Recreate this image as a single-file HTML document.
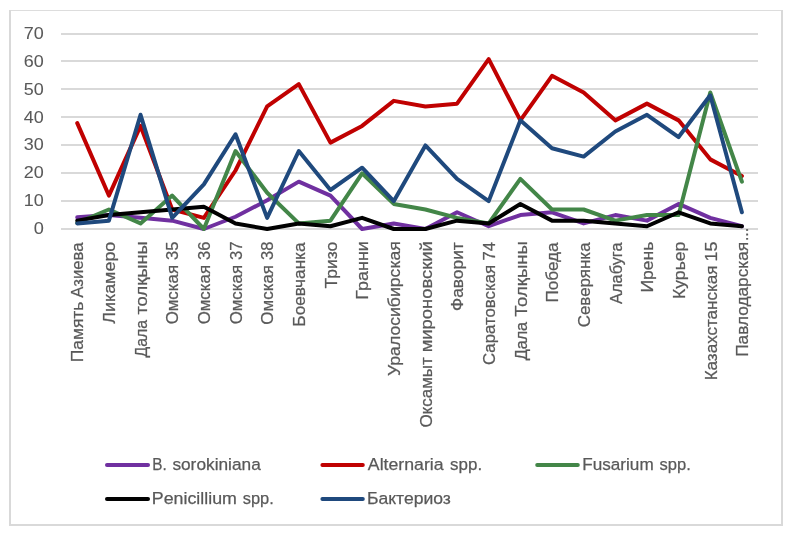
<!DOCTYPE html><html><head><meta charset="utf-8"><title>chart</title><style>html,body{margin:0;padding:0;background:#fff}svg{display:block;will-change:transform;opacity:0.999}text{font-family:"Liberation Sans",sans-serif;fill:#595959;stroke:#595959;stroke-width:0.25px;stroke-linejoin:round}text.y{stroke-width:0.05px}</style></head><body>
<svg width="792" height="537" viewBox="0 0 792 537">
<rect x="0" y="0" width="792" height="537" fill="#fff"/>
<g shape-rendering="crispEdges" fill="#D9D9D9"><rect x="9" y="10" width="774" height="1" fill="#DDDDDD"/><rect x="9" y="10" width="2" height="516"/><rect x="781" y="10" width="2" height="516"/><rect x="9" y="524" width="774" height="2"/>
<rect x="61" y="33" width="697" height="2"/>
<rect x="61" y="60" width="697" height="2"/>
<rect x="61" y="88" width="697" height="2"/>
<rect x="61" y="116" width="697" height="2"/>
<rect x="61" y="144" width="697" height="2"/>
<rect x="61" y="172" width="697" height="2"/>
<rect x="61" y="200" width="697" height="2"/>
<rect x="61" y="228" width="697" height="2"/>
</g>
<text class="y" id="y0" x="43.80" y="234.10" font-size="17.00" text-anchor="end" textLength="10.10" lengthAdjust="spacingAndGlyphs">0</text>
<text class="y" id="y1" x="43.80" y="206.10" font-size="17.00" text-anchor="end" textLength="20.00" lengthAdjust="spacingAndGlyphs">10</text>
<text class="y" id="y2" x="43.80" y="178.10" font-size="17.00" text-anchor="end" textLength="20.00" lengthAdjust="spacingAndGlyphs">20</text>
<text class="y" id="y3" x="43.80" y="150.00" font-size="17.00" text-anchor="end" textLength="20.00" lengthAdjust="spacingAndGlyphs">30</text>
<text class="y" id="y4" x="43.80" y="122.90" font-size="17.00" text-anchor="end" textLength="20.00" lengthAdjust="spacingAndGlyphs">40</text>
<text class="y" id="y5" x="43.80" y="94.80" font-size="17.00" text-anchor="end" textLength="20.00" lengthAdjust="spacingAndGlyphs">50</text>
<text class="y" id="y6" x="43.80" y="67.00" font-size="17.00" text-anchor="end" textLength="20.00" lengthAdjust="spacingAndGlyphs">60</text>
<text class="y" id="y7" x="43.80" y="38.80" font-size="17.00" text-anchor="end" textLength="20.00" lengthAdjust="spacingAndGlyphs">70</text>
<polyline points="77.25,217.30 108.90,215.07 140.55,217.86 172.20,220.64 203.85,229.00 235.50,216.74 267.15,200.31 298.80,181.64 330.45,195.57 362.10,229.00 393.75,223.43 425.40,229.00 457.05,212.29 488.70,226.21 520.35,215.07 552.00,212.29 583.65,223.43 615.30,215.07 646.95,220.64 678.60,203.93 710.25,217.86 741.90,226.21" fill="none" stroke="#7030A0" stroke-width="4.00" stroke-linecap="round" stroke-linejoin="round"/>
<polyline points="77.25,123.14 108.90,195.57 140.55,125.93 172.20,209.50 203.85,217.86 235.50,170.50 267.15,106.43 298.80,84.14 330.45,142.64 362.10,125.93 393.75,100.86 425.40,106.43 457.05,103.64 488.70,59.07 520.35,120.36 552.00,75.79 583.65,92.50 615.30,120.36 646.95,103.64 678.60,120.36 710.25,159.36 741.90,176.07" fill="none" stroke="#C00000" stroke-width="4.00" stroke-linecap="round" stroke-linejoin="round"/>
<polyline points="77.25,222.87 108.90,209.50 140.55,223.43 172.20,195.57 203.85,229.00 235.50,151.00 267.15,192.79 298.80,223.43 330.45,220.64 362.10,173.29 393.75,203.93 425.40,209.50 457.05,217.86 488.70,223.43 520.35,178.86 552.00,209.50 583.65,209.50 615.30,220.64 646.95,215.07 678.60,215.07 710.25,92.50 741.90,181.64" fill="none" stroke="#438648" stroke-width="4.00" stroke-linecap="round" stroke-linejoin="round"/>
<polyline points="77.25,220.64 108.90,215.07 140.55,212.29 172.20,209.50 203.85,206.71 235.50,223.43 267.15,229.00 298.80,223.43 330.45,226.21 362.10,217.86 393.75,229.00 425.40,229.00 457.05,220.64 488.70,223.43 520.35,203.93 552.00,220.64 583.65,220.64 615.30,223.43 646.95,226.21 678.60,212.29 710.25,223.43 741.90,226.21" fill="none" stroke="#000000" stroke-width="4.00" stroke-linecap="round" stroke-linejoin="round"/>
<polyline points="77.25,223.43 108.90,220.64 140.55,114.79 172.20,217.86 203.85,184.43 235.50,134.29 267.15,217.86 298.80,151.00 330.45,190.00 362.10,167.71 393.75,201.14 425.40,145.43 457.05,178.86 488.70,201.14 520.35,120.36 552.00,148.21 583.65,156.57 615.30,131.50 646.95,114.79 678.60,137.07 710.25,95.29 741.90,212.29" fill="none" stroke="#1F497D" stroke-width="4.00" stroke-linecap="round" stroke-linejoin="round"/>
<text id="c0_0" transform="translate(83.14,301.54) rotate(-90)" font-size="17.40" text-anchor="end" textLength="60.81" lengthAdjust="spacingAndGlyphs">Память</text>
<text id="c0_1" transform="translate(83.14,242.43) rotate(-90)" font-size="17.40" text-anchor="end" textLength="55.39" lengthAdjust="spacingAndGlyphs">Азиева</text>
<text id="c1_0" transform="translate(114.82,241.67) rotate(-90)" font-size="17.40" text-anchor="end" textLength="82.20" lengthAdjust="spacingAndGlyphs">Ликамеро</text>
<text id="c2_0" transform="translate(146.50,319.85) rotate(-90)" font-size="17.40" text-anchor="end" textLength="37.75" lengthAdjust="spacingAndGlyphs">Дала</text>
<text id="c2_1" transform="translate(146.50,241.17) rotate(-90)" font-size="17.40" text-anchor="end" textLength="73.45" lengthAdjust="spacingAndGlyphs">толқыны</text>
<text id="c3_0" transform="translate(178.19,264.98) rotate(-90)" font-size="17.40" text-anchor="end" textLength="59.34" lengthAdjust="spacingAndGlyphs">Омская</text>
<text id="c3_1" transform="translate(178.19,241.68) rotate(-90)" font-size="17.40" text-anchor="end" textLength="18.38" lengthAdjust="spacingAndGlyphs">35</text>
<text id="c4_0" transform="translate(209.87,264.98) rotate(-90)" font-size="17.40" text-anchor="end" textLength="59.34" lengthAdjust="spacingAndGlyphs">Омская</text>
<text id="c4_1" transform="translate(209.87,241.67) rotate(-90)" font-size="17.40" text-anchor="end" textLength="18.38" lengthAdjust="spacingAndGlyphs">36</text>
<text id="c5_0" transform="translate(241.55,264.98) rotate(-90)" font-size="17.40" text-anchor="end" textLength="59.34" lengthAdjust="spacingAndGlyphs">Омская</text>
<text id="c5_1" transform="translate(241.55,241.56) rotate(-90)" font-size="17.40" text-anchor="end" textLength="18.51" lengthAdjust="spacingAndGlyphs">37</text>
<text id="c6_0" transform="translate(273.23,264.98) rotate(-90)" font-size="17.40" text-anchor="end" textLength="59.68" lengthAdjust="spacingAndGlyphs">Омская</text>
<text id="c6_1" transform="translate(273.23,241.67) rotate(-90)" font-size="17.40" text-anchor="end" textLength="18.38" lengthAdjust="spacingAndGlyphs">38</text>
<text id="c7_0" transform="translate(304.91,242.43) rotate(-90)" font-size="17.40" text-anchor="end" textLength="84.21" lengthAdjust="spacingAndGlyphs">Боевчанка</text>
<text id="c8_0" transform="translate(336.60,241.67) rotate(-90)" font-size="17.40" text-anchor="end" textLength="46.79" lengthAdjust="spacingAndGlyphs">Тризо</text>
<text id="c9_0" transform="translate(368.28,241.18) rotate(-90)" font-size="17.40" text-anchor="end" textLength="58.46" lengthAdjust="spacingAndGlyphs">Гранни</text>
<text id="c10_0" transform="translate(399.96,241.18) rotate(-90)" font-size="17.40" text-anchor="end" textLength="134.92" lengthAdjust="spacingAndGlyphs">Уралосибирская</text>
<text id="c11_0" transform="translate(431.64,357.17) rotate(-90)" font-size="17.40" text-anchor="end" textLength="70.44" lengthAdjust="spacingAndGlyphs">Оксамыт</text>
<text id="c11_1" transform="translate(431.64,241.17) rotate(-90)" font-size="17.40" text-anchor="end" textLength="111.16" lengthAdjust="spacingAndGlyphs">мироновский</text>
<text id="c12_0" transform="translate(463.32,242.18) rotate(-90)" font-size="17.40" text-anchor="end" textLength="68.88" lengthAdjust="spacingAndGlyphs">Фаворит</text>
<text id="c13_0" transform="translate(495.00,264.91) rotate(-90)" font-size="17.40" text-anchor="end" textLength="100.06" lengthAdjust="spacingAndGlyphs">Саратовская</text>
<text id="c13_1" transform="translate(495.00,241.95) rotate(-90)" font-size="17.40" text-anchor="end" textLength="18.68" lengthAdjust="spacingAndGlyphs">74</text>
<text id="c14_0" transform="translate(526.69,321.85) rotate(-90)" font-size="17.40" text-anchor="end" textLength="38.53" lengthAdjust="spacingAndGlyphs">Дала</text>
<text id="c14_1" transform="translate(526.69,241.17) rotate(-90)" font-size="17.40" text-anchor="end" textLength="75.68" lengthAdjust="spacingAndGlyphs">Толқыны</text>
<text id="c15_0" transform="translate(558.37,242.42) rotate(-90)" font-size="17.40" text-anchor="end" textLength="60.04" lengthAdjust="spacingAndGlyphs">Победа</text>
<text id="c16_0" transform="translate(590.05,242.42) rotate(-90)" font-size="17.40" text-anchor="end" textLength="84.94" lengthAdjust="spacingAndGlyphs">Северянка</text>
<text id="c17_0" transform="translate(621.73,242.43) rotate(-90)" font-size="17.40" text-anchor="end" textLength="61.53" lengthAdjust="spacingAndGlyphs">Алабуга</text>
<text id="c18_0" transform="translate(653.41,241.67) rotate(-90)" font-size="17.40" text-anchor="end" textLength="50.81" lengthAdjust="spacingAndGlyphs">Ирень</text>
<text id="c19_0" transform="translate(685.10,241.67) rotate(-90)" font-size="17.40" text-anchor="end" textLength="57.31" lengthAdjust="spacingAndGlyphs">Курьер</text>
<text id="c20_0" transform="translate(716.78,265.50) rotate(-90)" font-size="17.40" text-anchor="end" textLength="114.83" lengthAdjust="spacingAndGlyphs">Казахстанская</text>
<text id="c20_1" transform="translate(716.78,241.67) rotate(-90)" font-size="17.40" text-anchor="end" textLength="19.92" lengthAdjust="spacingAndGlyphs">15</text>
<text id="c21_0" transform="translate(748.46,241.78) rotate(-90)" font-size="17.40" text-anchor="end" textLength="115.07" lengthAdjust="spacingAndGlyphs">Павлодарская</text>
<text id="dots" transform="translate(748.46,241.00) rotate(-90)" font-size="17.40" text-anchor="start" textLength="13.10" lengthAdjust="spacingAndGlyphs">...</text>
<line x1="107.00" y1="465.00" x2="148.00" y2="465.00" stroke="#7030A0" stroke-width="4.00" stroke-linecap="round"/>
<line x1="322.40" y1="465.00" x2="362.80" y2="465.00" stroke="#C00000" stroke-width="4.00" stroke-linecap="round"/>
<line x1="537.20" y1="465.00" x2="577.80" y2="465.00" stroke="#438648" stroke-width="4.00" stroke-linecap="round"/>
<line x1="107.00" y1="499.00" x2="148.00" y2="499.00" stroke="#000000" stroke-width="4.00" stroke-linecap="round"/>
<line x1="322.40" y1="499.00" x2="362.80" y2="499.00" stroke="#1F497D" stroke-width="4.00" stroke-linecap="round"/>
<text id="w0a" x="152.24" y="470.30" font-size="17.40" textLength="14.48" lengthAdjust="spacingAndGlyphs">B.</text>
<text id="w0b" x="172.39" y="470.30" font-size="17.40" textLength="88.38" lengthAdjust="spacingAndGlyphs">sorokiniana</text>
<text id="w1a" x="367.89" y="470.30" font-size="17.40" textLength="75.72" lengthAdjust="spacingAndGlyphs">Alternaria</text>
<text id="w1b" x="450.10" y="470.30" font-size="17.40" textLength="32.02" lengthAdjust="spacingAndGlyphs">spp.</text>
<text id="w2a" x="582.28" y="470.30" font-size="17.40" textLength="71.40" lengthAdjust="spacingAndGlyphs">Fusarium</text>
<text id="w2b" x="659.56" y="470.30" font-size="17.40" textLength="31.27" lengthAdjust="spacingAndGlyphs">spp.</text>
<text id="w3a" x="151.82" y="504.30" font-size="17.40" textLength="85.04" lengthAdjust="spacingAndGlyphs">Penicillium</text>
<text id="w3b" x="242.76" y="504.30" font-size="17.40" textLength="31.03" lengthAdjust="spacingAndGlyphs">spp.</text>
<text id="w4a" x="366.91" y="504.30" font-size="17.40" textLength="83.96" lengthAdjust="spacingAndGlyphs">Бактериоз</text>
</svg></body></html>
